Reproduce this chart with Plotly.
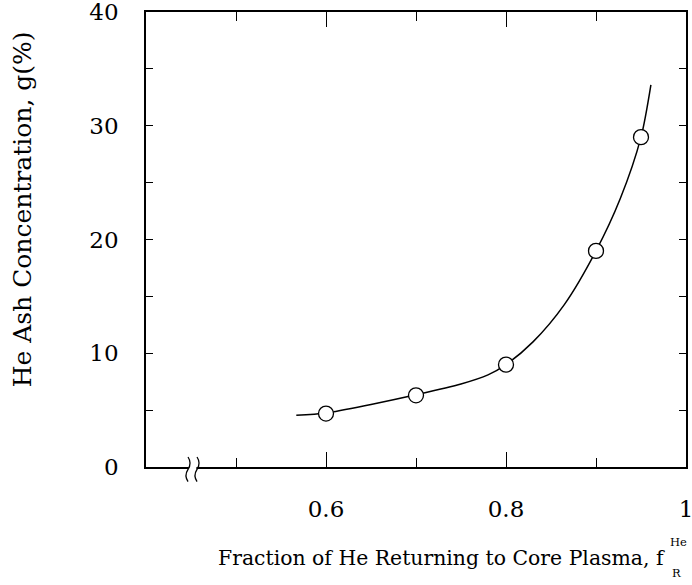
import plotly.graph_objects as go

# Measured points
frac_points = [0.6, 0.7, 0.8, 0.9, 0.95]
conc_points = [4.7, 6.3, 9.0, 19.0, 29.0]

# Smooth curve
frac_curve = [0.567, 0.6, 0.65, 0.7, 0.75, 0.78, 0.8, 0.83, 0.865, 0.9, 0.927, 0.95, 0.961]
conc_curve = [4.55, 4.75, 5.5, 6.35, 7.3, 8.1, 9.0, 11.0, 14.3, 19.0, 23.6, 29.0, 33.6]

x_tickvals = [0.6, 0.8, 1.0]
x_ticktext = ["0.6", "0.8", "1"]
y_tickvals = [0, 10, 20, 30, 40]
y_ticktext = ["0", "10", "20", "30", "40"]

FONT = "DejaVu Serif"

fig = go.Figure()
fig.add_trace(go.Scatter(x=frac_curve, y=conc_curve, mode="lines",
                         line=dict(color="black", width=1.5, shape="spline", smoothing=0.8),
                         showlegend=False, hoverinfo="skip"))
fig.add_trace(go.Scatter(x=frac_points, y=conc_points, mode="markers",
                         marker=dict(symbol="circle", size=15, color="white",
                                     line=dict(color="black", width=1.3)),
                         showlegend=False))

fig.update_xaxes(range=[0.4, 1.0], tickvals=x_tickvals, ticktext=x_ticktext,
                 ticks="inside", ticklen=15, tickwidth=1.3, tickcolor="black",
                 minor=dict(tickvals=[0.5, 0.7, 0.9], ticks="inside", ticklen=9,
                            tickwidth=1.3, tickcolor="black", showgrid=False),
                 showline=True, linecolor="black", linewidth=1.5, mirror="ticks",
                 showgrid=False, zeroline=False, ticklabelstandoff=21,
                 ticklabeloverflow="allow", automargin=False,
                 tickfont=dict(family=FONT, size=23, color="black"))
fig.update_yaxes(range=[0, 40], tickvals=y_tickvals, ticktext=y_ticktext,
                 ticks="inside", ticklen=7, tickwidth=1.3, tickcolor="black",
                 minor=dict(tickvals=[5, 15, 25, 35], ticks="inside", ticklen=7,
                            tickwidth=1.3, tickcolor="black", showgrid=False),
                 showline=True, linecolor="black", linewidth=1.5, mirror="ticks",
                 showgrid=False, zeroline=False, ticklabelstandoff=21,
                 ticklabeloverflow="allow", automargin=False,
                 tickfont=dict(family=FONT, size=23, color="black"))

# Axis break on the x axis
fig.add_shape(type="rect", xref="x", yref="paper", x0=0.4475, x1=0.4560,
              y0=-0.006, y1=0.006, fillcolor="white", line=dict(width=0), layer="above")
for c in (0.4467, 0.4567):
    d = 0.0045
    path = (f"M {c},0.022 Q {c + d},0.0085 {c},-0.005 Q {c - d},-0.0185 {c},-0.032")
    fig.add_shape(type="path", xref="x", yref="paper", path=path,
                  line=dict(color="black", width=1.3), layer="above")

# Axis titles
fig.add_annotation(xref="paper", yref="paper", x=0.1296, y=-0.201,
                   xanchor="left", yanchor="middle", showarrow=False,
                   text="Fraction of He Returning to Core Plasma, f",
                   font=dict(family=FONT, size=20.4, color="black"))
fig.add_annotation(xref="paper", yref="paper", x=0.966, y=-0.164,
                   xanchor="left", yanchor="middle", showarrow=False,
                   text="He", font=dict(family=FONT, size=11.5, color="black"))
fig.add_annotation(xref="paper", yref="paper", x=0.970, y=-0.232,
                   xanchor="left", yanchor="middle", showarrow=False,
                   text="R", font=dict(family=FONT, size=11.5, color="black"))
fig.add_annotation(xref="paper", yref="paper", x=-0.228, y=0.566,
                   xanchor="center", yanchor="middle", showarrow=False, textangle=-90,
                   text="He Ash Concentration, g(%)",
                   font=dict(family=FONT, size=25, color="black"))

fig.update_layout(width=692, height=585, paper_bgcolor="white", plot_bgcolor="white",
                  margin=dict(l=146, r=6, t=12, b=118), showlegend=False)

fig.write_html("out.html", config={"displayModeBar": False},
               post_script="document.body.style.margin='0';document.body.style.padding='0';")
